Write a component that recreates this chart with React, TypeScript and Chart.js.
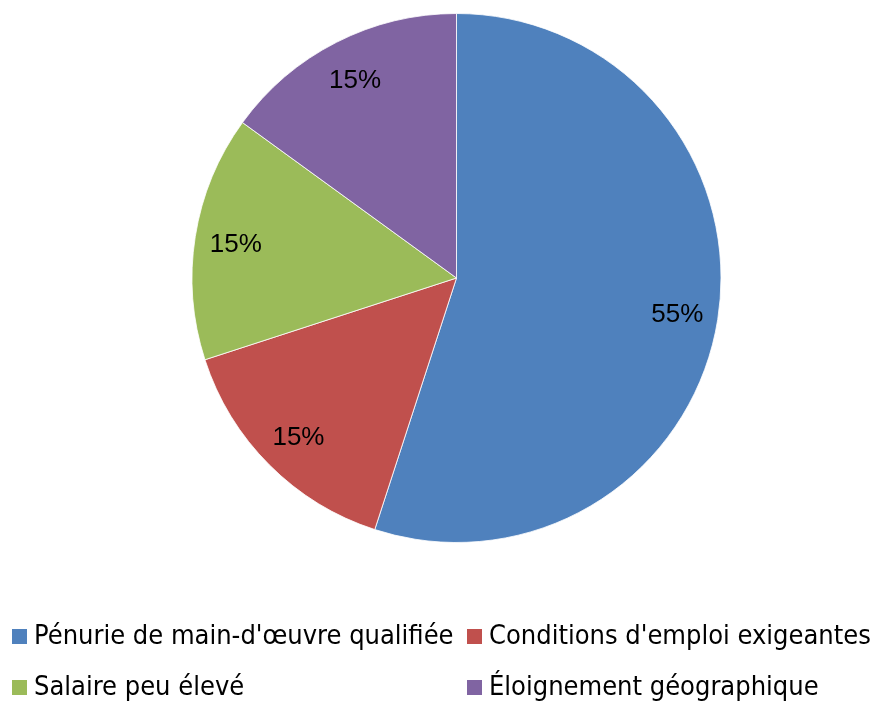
import React, { useEffect, useRef } from "react";
import { Chart, registerables } from "chart.js";

Chart.register(...registerables);

const categories = [
  "Pénurie de main-d'œuvre qualifiée",
  "Conditions d'emploi exigeantes",
  "Salaire peu élevé",
  "Éloignement géographique",
];
const values = [55, 15, 15, 15];
const colors = ["#4F81BD", "#C0504D", "#9BBB59", "#8064A2"];

const labelPlugin = {
  id: "pctLabels",
  afterDatasetsDraw(chart: any) {
    const ctx = chart.ctx;
    const meta = chart.getDatasetMeta(0);
    const total = values.reduce((a, b) => a + b, 0);
    ctx.save();
    ctx.font = "26px 'Liberation Sans', Arial, sans-serif";
    ctx.fillStyle = "#000";
    ctx.textAlign = "center";
    ctx.textBaseline = "middle";
    meta.data.forEach((arc: any, i: number) => {
      const { x, y, startAngle, endAngle, outerRadius } = arc.getProps(
        ["x", "y", "startAngle", "endAngle", "outerRadius"],
        true
      );
      const mid = (startAngle + endAngle) / 2;
      const d = outerRadius * 0.845;
      const pct = Math.round((values[i] / total) * 100) + "%";
      ctx.fillText(pct, x + Math.cos(mid) * d, y + Math.sin(mid) * d + 2);
    });
    ctx.restore();
  },
};

export default function App() {
  const ref = useRef<HTMLCanvasElement>(null);
  useEffect(() => {
    if (!ref.current) return;
    const chart = new Chart(ref.current, {
      type: "pie",
      data: {
        labels: categories,
        datasets: [
          {
            data: values,
            backgroundColor: colors,
            borderColor: "rgba(255,255,255,0.8)",
            borderWidth: 1,
          },
        ],
      },
      options: {
        responsive: false,
        animation: false,
        layout: { padding: { top: 13, bottom: 159, left: 191, right: 153 } },
        plugins: {
          legend: { display: false },
          tooltip: { enabled: false },
        },
      },
      plugins: [labelPlugin],
    });
    return () => chart.destroy();
  }, []);

  const legendPos = [
    { sx: 12, sy: 629, tx: 34 },
    { sx: 467, sy: 629, tx: 489 },
    { sx: 12, sy: 680, tx: 34 },
    { sx: 467, sy: 680, tx: 489 },
  ];

  return (
    <div style={{ position: "fixed", left: 0, top: 0, width: 875, height: 702, background: "#fff" }}>
      <canvas ref={ref} width={875} height={702} style={{ position: "absolute", left: 0, top: 0 }} />
      {categories.map((c, i) => (
        <React.Fragment key={c}>
          <div
            style={{
              position: "absolute",
              left: legendPos[i].sx,
              top: legendPos[i].sy,
              width: 15,
              height: 15,
              background: colors[i],
            }}
          />
          <div
            style={{
              position: "absolute",
              left: legendPos[i].tx,
              top: legendPos[i].sy - 10,
              fontFamily: "'DejaVu Sans Condensed', 'DejaVu Sans', sans-serif",
              fontStretch: "condensed",
              fontSize: 27,
              lineHeight: "32px",
              color: "#000",
              whiteSpace: "nowrap",
            }}
          >
            {c}
          </div>
        </React.Fragment>
      ))}
    </div>
  );
}
